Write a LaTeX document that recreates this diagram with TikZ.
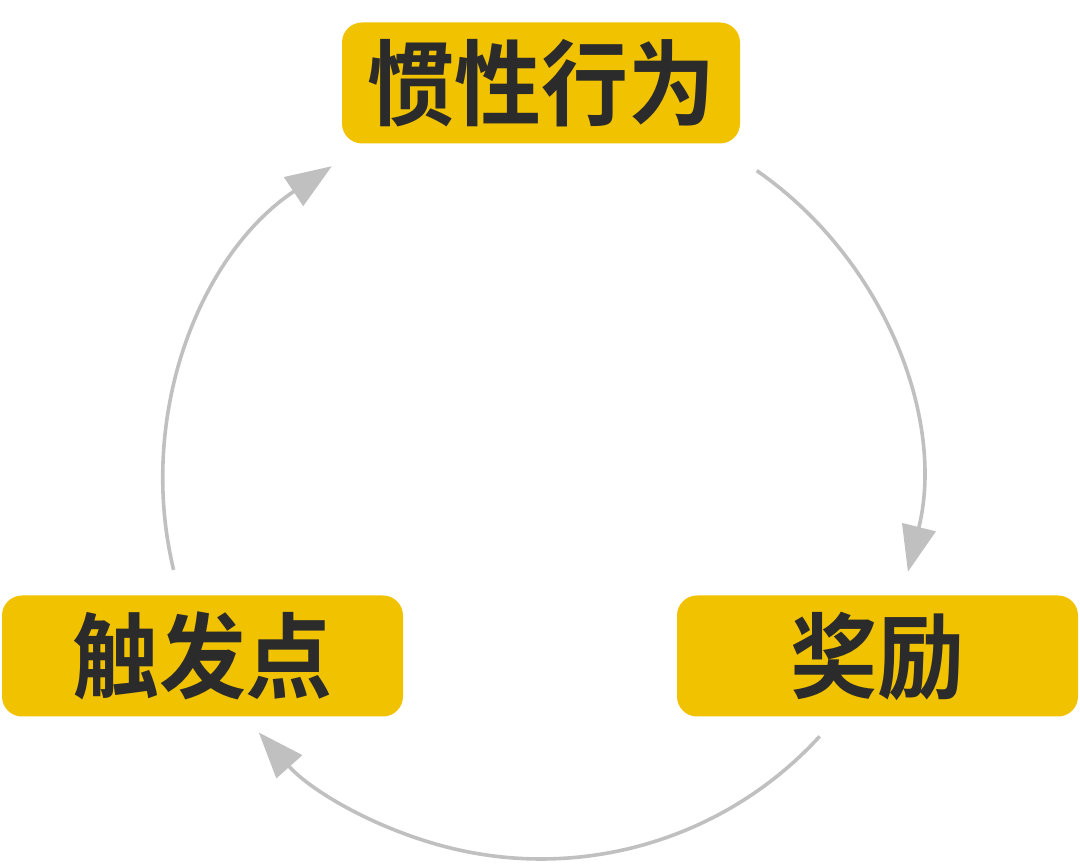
\documentclass[tikz,border=0pt]{standalone}
\usepackage{fontspec}
\usepackage{graphicx}
\newfontfamily\cjk{Noto Sans CJK SC}[BoldFont={Noto Sans CJK SC Bold}]
\usetikzlibrary{arrows.meta}
\definecolor{boxyellow}{HTML}{F1C200}
\definecolor{txtdark}{HTML}{2B2B2B}
\definecolor{arcgray}{HTML}{C0C0C0}
\newcommand{\tallcjk}[1]{\scalebox{1}[1.07]{#1}}
\tikzset{
  stagebox/.style={fill=boxyellow, rounded corners=20pt, inner sep=0pt,
    minimum height=121pt, text=txtdark, font=\cjk\bfseries\fontsize{87}{87}\selectfont},
  looparc/.style={draw=arcgray, line width=3.6pt, -{Triangle[length=46pt,width=34pt]}}
}
\begin{document}
\begin{tikzpicture}[x=1pt,y=1pt]
\useasboundingbox (0,0) rectangle (1080,863);
\node[stagebox, minimum width=398pt] (habit) at (541,780) {\tallcjk{惯性行为}};
\node[stagebox, minimum width=401pt] (trigger) at (202.5,207) {\tallcjk{触发点}};
\node[stagebox, minimum width=401pt] (reward) at (877.5,207) {\tallcjk{奖励}};
\coordinate (c) at (541,382);
\draw[looparc] ([shift={(193.6:378)}]c) arc[start angle=193.6, end angle=123.6, radius=378];
\draw[looparc] ([shift={(55.2:378)}]c) arc[start angle=55.2, end angle=-13.9, radius=378];
\draw[looparc] ([shift={(-42.5:378)}]c) arc[start angle=-42.5, end angle=-138.3, radius=378];
\end{tikzpicture}
\end{document}
